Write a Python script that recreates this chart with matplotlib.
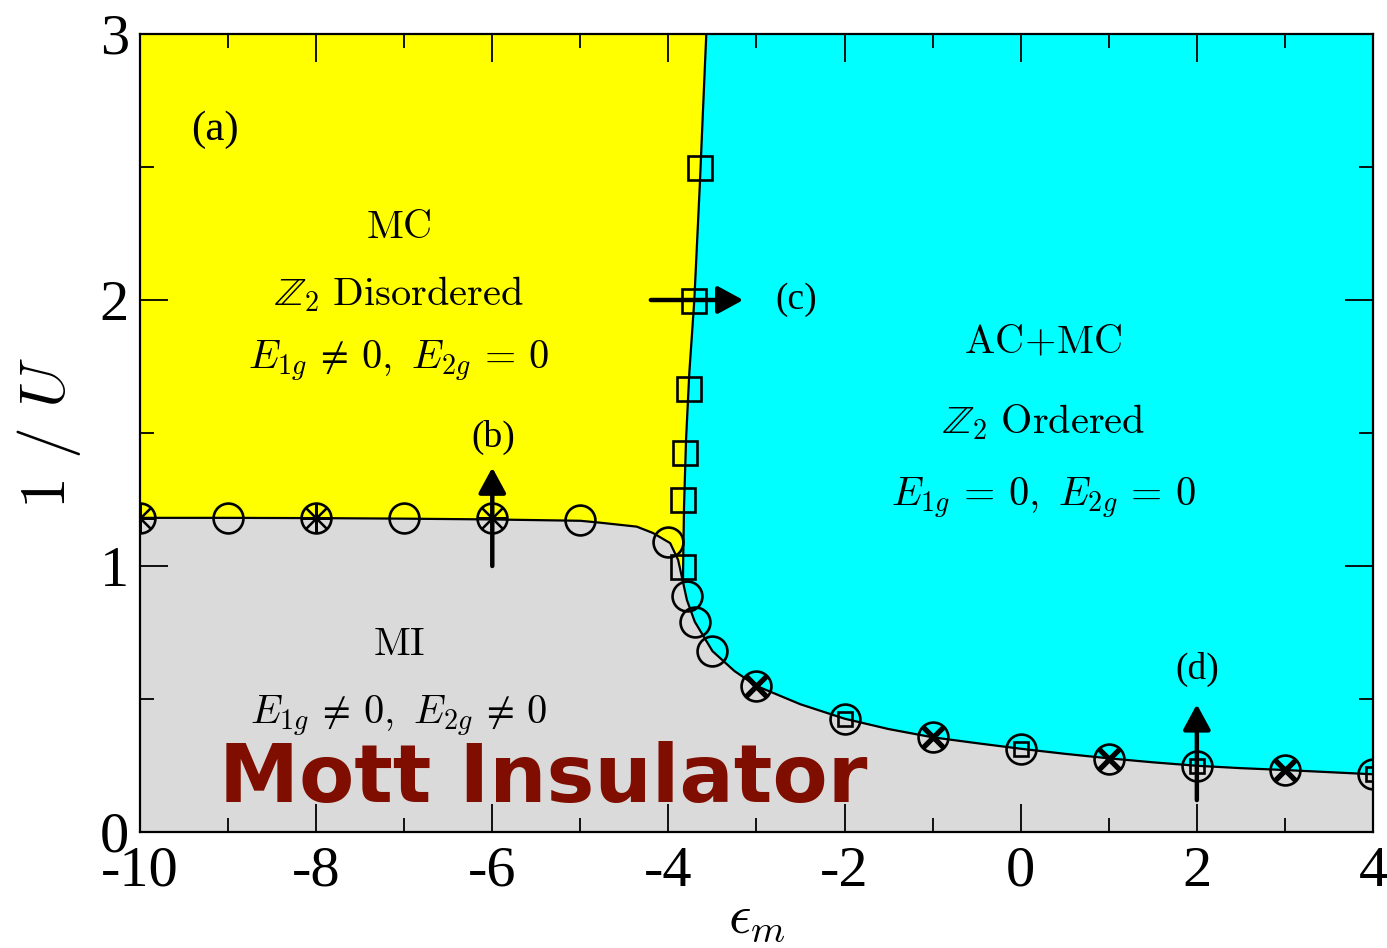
import matplotlib
matplotlib.use("Agg")
import matplotlib.pyplot as plt
from matplotlib.ticker import MultipleLocator

plt.rcParams['font.family'] = ['Liberation Serif', 'DejaVu Serif']
plt.rcParams['mathtext.fontset'] = 'cm'

# Phase boundary between Mott insulator and metallic phases
mi_x = [-10, -9, -8, -7, -6, -5, -4.78, -4.36, -4.175, -3.98, -3.89, -3.835,
        -3.79, -3.70, -3.50, -3.25, -3.0, -2.5, -2.0, -1.5, -1.0, -0.5, 0.0,
        0.5, 1.0, 1.5, 2.0, 2.5, 3.0, 3.5, 4.0]
mi_y = [1.181, 1.181, 1.18, 1.178, 1.175, 1.17, 1.163, 1.148, 1.124, 1.086,
        1.023, 0.94, 0.872, 0.79, 0.68, 0.605, 0.549, 0.48, 0.426, 0.387,
        0.356, 0.334, 0.313, 0.294, 0.277, 0.262, 0.249, 0.24, 0.233, 0.225,
        0.217]

# Z2 ordering boundary (MC -> AC+MC)
z2_x = [-3.57, -3.622, -3.641, -3.706, -3.763, -3.80, -3.823, -3.831, -3.835]
z2_y = [3.0, 2.602, 2.451, 2.0, 1.725, 1.474, 1.222, 1.05, 0.94]

# Computed points
circ_x = [-10, -9, -8, -7, -6, -5, -4.0, -3.793, -3.70, -3.50, -3.0, -2.0,
          -1.0, 0.0, 1.0, 2.0, 3.0, 4.0]
circ_y = [1.18, 1.18, 1.18, 1.18, 1.18, 1.173, 1.091, 0.887, 0.79, 0.682,
          0.549, 0.426, 0.356, 0.311, 0.276, 0.248, 0.233, 0.217]
star_x = [-10, -8, -6]
star_y = [1.18, 1.18, 1.18]
cross_x = [-3.0, -1.0, 1.0, 3.0]
cross_y = [0.549, 0.356, 0.276, 0.233]
insq_x = [-2.0, 0.0, 2.0, 4.0]
insq_y = [0.426, 0.311, 0.248, 0.217]
sq_x = [-3.641, -3.713, -3.77, -3.808, -3.831, -3.834]
sq_y = [2.497, 1.997, 1.664, 1.426, 1.248, 0.997]

xticks = [-10, -8, -6, -4, -2, 0, 2, 4]
xticklabels = ['-10', '-8', '-6', '-4', '-2', '0', '2', '4']
yticks = [0, 1, 2, 3]
yticklabels = ['0', '1', '2', '3']

fig = plt.figure(figsize=(13.87, 9.48), dpi=100)
ax = fig.add_axes([140 / 1387, 116 / 948, 1233 / 1387, 798 / 948])
ax.set_xlim(-10, 4)
ax.set_ylim(0, 3)
ax.set_facecolor('#00ffff')

# Mott insulator region (grey)
ax.fill_between(mi_x, 0, mi_y, color='#dadada', lw=0, zorder=1)
# Z2-disordered metallic region (yellow)
j = mi_x.index(-3.835)
poly_x = [-10] + z2_x + mi_x[:j + 1][::-1]
poly_y = [3.0] + z2_y + mi_y[:j + 1][::-1]
ax.fill(poly_x, poly_y, color='#ffff00', lw=0, zorder=1)

ax.plot(mi_x, mi_y, color='k', lw=1.6, zorder=3)
ax.plot(z2_x, z2_y, color='k', lw=1.6, zorder=3)

ms_c = 21.5
ax.plot(circ_x, circ_y, ls='none', marker='o', ms=ms_c, mfc='none', mec='k',
        mew=1.9, zorder=4)
ax.plot(star_x, star_y, ls='none', marker=(8, 2, 0), ms=ms_c - 1, mec='k',
        mew=1.6, zorder=4)
ax.plot(cross_x, cross_y, ls='none', marker='x', ms=14, mec='k', mew=3.8,
        zorder=4)
ax.plot(insq_x, insq_y, ls='none', marker='s', ms=10, mfc='none', mec='k',
        mew=1.9, zorder=4)
ax.plot(sq_x, sq_y, ls='none', marker='s', ms=17, mfc='none', mec='k',
        mew=1.9, zorder=4)

# Arrows marking the cuts (b), (c), (d)
arrow_kw = dict(arrowstyle='-|>,head_length=0.7,head_width=0.38', lw=3.2,
                color='k', shrinkA=0, shrinkB=0, mutation_scale=22)
ax.annotate('', xy=(-6, 1.37), xytext=(-6, 1.0), arrowprops=arrow_kw, zorder=5)
ax.annotate('', xy=(-3.15, 2.0), xytext=(-4.2, 2.0), arrowprops=arrow_kw, zorder=5)
ax.annotate('', xy=(2.0, 0.48), xytext=(2.0, 0.12), arrowprops=arrow_kw, zorder=5)

lab = 27
ax.text(-5.99, 1.485, '(b)', fontsize=lab, ha='center', va='center', zorder=6)
ax.text(-2.55, 2.0, '(c)', fontsize=lab, ha='center', va='center', zorder=6)
ax.text(2.0, 0.61, '(d)', fontsize=lab, ha='center', va='center', zorder=6)
ax.text(-9.15, 2.64, '(a)', fontsize=31, ha='center', va='center', zorder=6)

rs = 29
ax.text(-7.06, 2.27, r'$\mathrm{MC}$', fontsize=rs, ha='center', va='center')
ax.text(-7.06, 2.02, r'$\mathbb{Z}_2\ \mathrm{Disordered}$', fontsize=rs,
        ha='center', va='center')
ax.text(-7.06, 1.77, r'$E_{1g}\,\neq\,0,\ E_{2g}\,=\,0$', fontsize=rs,
        ha='center', va='center')
ax.text(0.26, 1.835, r'$\mathrm{AC\!+\!MC}$', fontsize=rs, ha='center',
        va='center')
ax.text(0.26, 1.54, r'$\mathbb{Z}_2\ \mathrm{Ordered}$', fontsize=rs,
        ha='center', va='center')
ax.text(0.26, 1.256, r'$E_{1g}\,=\,0,\ E_{2g}\,=\,0$', fontsize=rs,
        ha='center', va='center')
ax.text(-7.06, 0.70, r'$\mathrm{MI}$', fontsize=rs, ha='center', va='center')
ax.text(-7.06, 0.435, r'$E_{1g}\,\neq\,0,\ E_{2g}\,\neq\,0$', fontsize=rs,
        ha='center', va='center')

ax.text(-5.42, 0.195, 'Mott Insulator', fontsize=58, fontweight='bold',
        family='DejaVu Sans', color='#800e00', ha='center', va='center',
        zorder=6)

ax.set_xticks(xticks)
ax.set_xticklabels(xticklabels)
ax.set_yticks(yticks)
ax.set_yticklabels(yticklabels)
ax.xaxis.set_minor_locator(MultipleLocator(1))
ax.yaxis.set_minor_locator(MultipleLocator(0.5))
ax.tick_params(which='both', direction='in', top=True, right=True,
               labelsize=42, width=1.3, zorder=7)
ax.tick_params(which='major', length=20)
ax.tick_params(which='minor', length=10)
ax.tick_params(axis='x', pad=10)
ax.tick_params(axis='y', pad=8)
for s in ax.spines.values():
    s.set_linewidth(1.6)
    s.set_zorder(8)

ax.set_xlabel(r'$\epsilon_m$', fontsize=40, labelpad=-4)
ax.set_ylabel(r'$1\ /\ U$', fontsize=46, labelpad=12)

fig.savefig('out.png', dpi=100)
